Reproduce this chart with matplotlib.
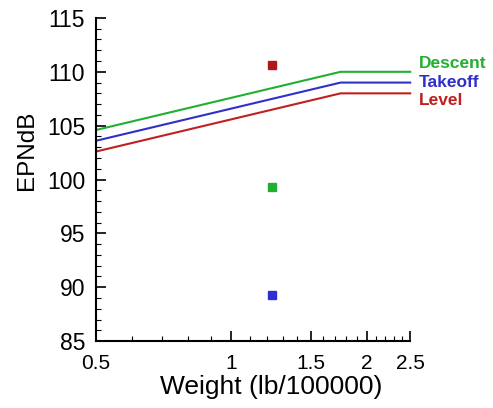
import matplotlib
matplotlib.use('Agg')
from matplotlib import pyplot as plt
from matplotlib.ticker import FixedLocator, NullFormatter

plt.rcParams['font.family'] = ['Liberation Sans', 'DejaVu Sans']

# line data (weight in lb/100000, EPNdB)
weight = [0.5, 1.75, 2.5]
descent = [104.6, 110.0, 110.0]
takeoff = [103.6, 109.0, 109.0]
level = [102.6, 108.0, 108.0]

# single points
point_weight = 1.23
point_level = 110.6
point_descent = 99.3
point_takeoff = 89.3

x_ticks = [0.5, 1, 1.5, 2, 2.5]
x_tick_labels = ['0.5', '1', '1.5', '2', '2.5']
x_minor = [0.6, 0.7, 0.8, 0.9, 1.1, 1.2, 1.3, 1.4, 1.6, 1.7, 1.8, 1.9,
           2.1, 2.2, 2.3, 2.4]

green = '#22b030'
blue = '#3030c8'
red = '#c02020'

fig = plt.figure(figsize=(4.93, 4.08), dpi=100)
ax = fig.add_axes([0.195, 0.164, 0.637, 0.792])

ax.plot(weight, descent, color=green, lw=1.5, clip_on=False)
ax.plot(weight, takeoff, color=blue, lw=1.5, clip_on=False)
ax.plot(weight, level, color=red, lw=1.5, clip_on=False)

ax.plot([point_weight], [point_level], 's', color='#b01818', ms=5.5)
ax.plot([point_weight], [point_descent], 's', color='#20b030', ms=5.5)
ax.plot([point_weight], [point_takeoff], 's', color='#3030d0', ms=5.5)

ax.annotate('Descent', xy=(weight[-1], descent[-1]), xytext=(6, 6),
            textcoords='offset points', color=green, fontsize=12.5,
            fontweight='bold', va='center', annotation_clip=False)
ax.annotate('Takeoff', xy=(weight[-1], takeoff[-1]), xytext=(6, 0),
            textcoords='offset points', color=blue, fontsize=12.5,
            fontweight='bold', va='center', annotation_clip=False)
ax.annotate('Level', xy=(weight[-1], level[-1]), xytext=(6, -5.5),
            textcoords='offset points', color=red, fontsize=12.5,
            fontweight='bold', va='center', annotation_clip=False)

ax.set_xscale('log')
ax.set_xlim(0.5, 2.5)
ax.set_ylim(85, 115)
ax.xaxis.set_major_locator(FixedLocator(x_ticks))
ax.set_xticklabels(x_tick_labels)
ax.xaxis.set_minor_locator(FixedLocator(x_minor))
ax.xaxis.set_minor_formatter(NullFormatter())
ax.set_yticks([85, 90, 95, 100, 105, 110, 115])
ax.yaxis.set_minor_locator(FixedLocator(range(85, 116)))

ax.spines['top'].set_visible(False)
ax.spines['right'].set_visible(False)
for s in ['left', 'bottom']:
    ax.spines[s].set_linewidth(1.5)
ax.tick_params(which='major', direction='in', length=7, width=1.2)
ax.tick_params(which='minor', direction='in', length=3.5, width=0.8)
ax.tick_params(axis='x', which='major', labelsize=15, pad=9)
ax.tick_params(axis='y', which='major', labelsize=16.5, pad=8)

ax.set_xlabel('Weight (lb/100000)', fontsize=19)
ax.xaxis.set_label_coords(0.557, -0.105)
ax.set_ylabel('EPNdB', fontsize=17.5)
ax.yaxis.set_label_coords(-0.185, 0.59)

fig.savefig('out.png', dpi=100)
